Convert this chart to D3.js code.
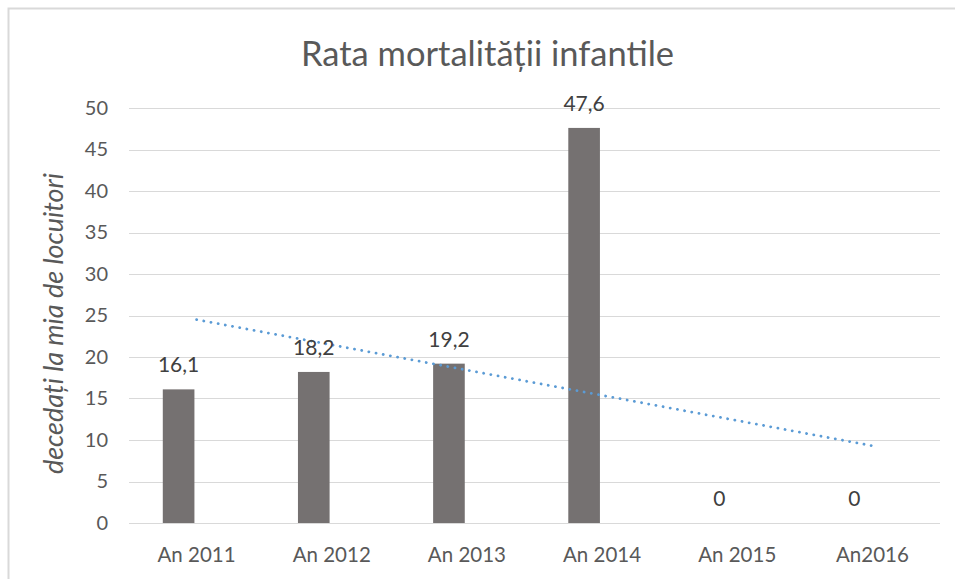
<!DOCTYPE html>
<html>
<head>
<meta charset="utf-8">
<script src="https://cdn.jsdelivr.net/npm/d3@7"></script>
<style>
  body { margin: 0; background: #fff; }
  text { font-family: Lato, "Open Sans", sans-serif; }
</style>
</head>
<body>
<div id="chart"></div>
<script>
const categories = ['An 2011', 'An 2012', 'An 2013', 'An 2014', 'An 2015', 'An2016'];
const values = [16.1, 18.2, 19.2, 47.6, 0, 0];
const labels = ['16,1', '18,2', '19,2', '47,6', '0', '0'];
const yTicks = [0, 5, 10, 15, 20, 25, 30, 35, 40, 45, 50];
// linear trendline: value at first and last category
const trendEnds = [24.5, 9.3];

const width = 955;
const height = 579;
const margin = { top: 108, right: 15, bottom: 56, left: 129 };

const svg = d3.select('#chart')
    .append('svg')
    .attr('width', width)
    .attr('height', height);

// chart frame (cropped on the right and bottom in the original)
svg.append('rect')
    .attr('x', 8.5).attr('y', 8.5)
    .attr('width', width + 20).attr('height', height + 20)
    .attr('fill', '#fff')
    .attr('stroke', '#d9d9d9')
    .attr('stroke-width', 2);

const x = d3.scaleBand()
    .domain(categories)
    .range([margin.left, width - margin.right])
    .paddingInner(0.5)
    .paddingOuter(0.25);

// clustered layout: the second series is empty, so bars sit left of centre
const x1 = d3.scaleBand()
    .domain(['rate', 'empty'])
    .range([0, x.bandwidth()])
    .paddingInner(0.12);

const y = d3.scaleLinear()
    .domain([0, 50])
    .range([height - margin.bottom, margin.top]);

// gridlines
svg.append('g')
    .selectAll('line')
    .data(yTicks)
    .join('line')
    .attr('x1', margin.left)
    .attr('x2', width - margin.right)
    .attr('y1', d => Math.round(y(d)) + 0.5)
    .attr('y2', d => Math.round(y(d)) + 0.5)
    .attr('stroke', '#d9d9d9')
    .attr('stroke-width', 1.2);

// y axis labels
const yAxis = svg.append('g')
    .attr('transform', `translate(${margin.left},0)`)
    .call(d3.axisLeft(y).tickValues(yTicks).tickSize(0).tickPadding(21));
yAxis.select('.domain').remove();
yAxis.selectAll('text')
    .attr('font-family', 'Lato, sans-serif')
    .attr('font-size', 20)
    .attr('fill', '#595959');

// x axis labels
const xAxis = svg.append('g')
    .attr('transform', `translate(0,${height - margin.bottom})`)
    .call(d3.axisBottom(x).tickSize(0).tickPadding(24));
xAxis.select('.domain').remove();
xAxis.selectAll('text')
    .attr('font-family', 'Lato, sans-serif')
    .attr('font-size', 20.5)
    .attr('fill', '#595959');

// bars
svg.append('g')
    .selectAll('rect')
    .data(values)
    .join('rect')
    .attr('x', (d, i) => x(categories[i]) + x1('rate'))
    .attr('width', x1.bandwidth())
    .attr('y', d => y(d))
    .attr('height', d => y(0) - y(d))
    .attr('fill', '#757171');

// trendline
const trendLine = d3.line()
    .x(d => x(d.cat) + x.bandwidth() / 2)
    .y(d => y(d.v));
svg.append('path')
    .datum([
        { cat: categories[0], v: trendEnds[0] },
        { cat: categories[categories.length - 1], v: trendEnds[1] }
    ])
    .attr('d', trendLine)
    .attr('fill', 'none')
    .attr('stroke', '#5b9bd5')
    .attr('stroke-width', 2.8)
    .attr('stroke-linecap', 'round')
    .attr('stroke-dasharray', '0.1,7.2');

// value labels
svg.append('g')
    .selectAll('text')
    .data(values)
    .join('text')
    .attr('x', (d, i) => x(categories[i]) + x1('rate') + x1.bandwidth() / 2)
    .attr('y', d => y(d) - 17)
    .attr('text-anchor', 'middle')
    .attr('font-size', 21)
    .attr('fill', '#404040')
    .text((d, i) => labels[i]);

// title
svg.append('text')
    .attr('x', 487.5)
    .attr('y', 66)
    .attr('text-anchor', 'middle')
    .attr('font-size', 34.5)
    .attr('fill', '#595959')
    .text('Rata mortalității infantile');

// y axis title
svg.append('text')
    .attr('transform', `translate(63,${(y(0) + y(50)) / 2 + 8}) rotate(-90)`)
    .attr('text-anchor', 'middle')
    .attr('font-size', 27)
    .attr('font-style', 'italic')
    .attr('fill', '#595959')
    .text('decedați la mia de locuitori');
</script>
</body>
</html>
